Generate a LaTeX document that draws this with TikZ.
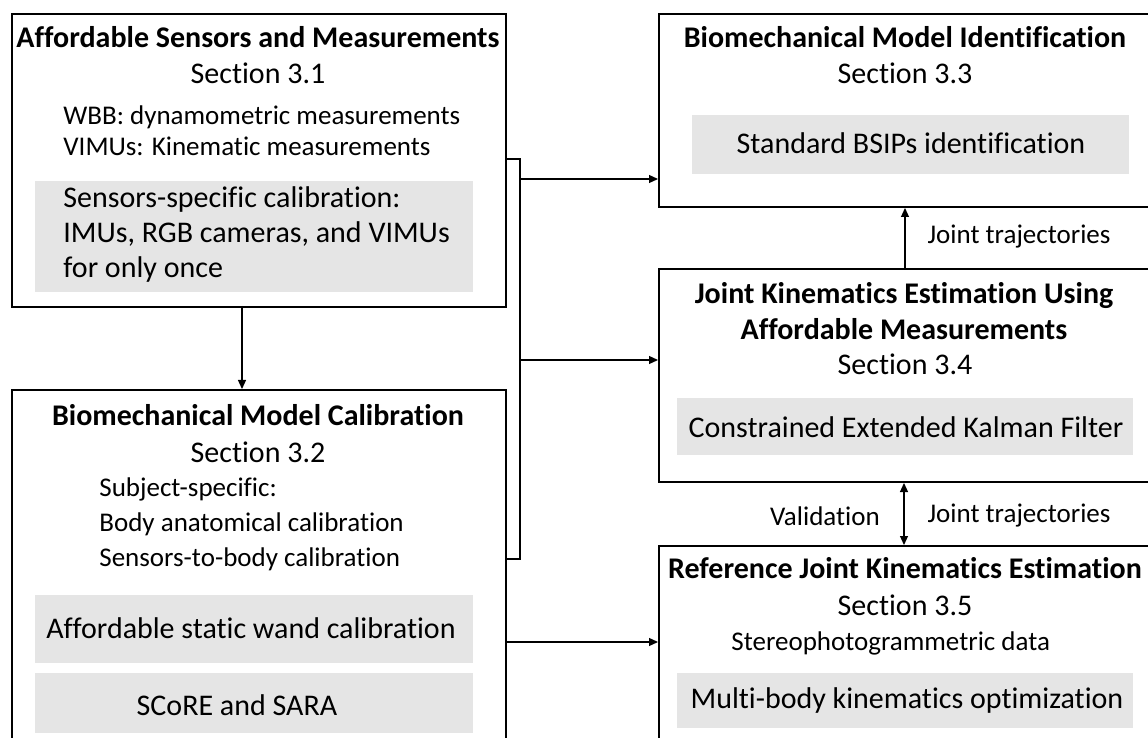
\documentclass[tikz,border=0pt]{standalone}
\usepackage{fontspec}
\setmainfont{Carlito}[Ligatures=NoCommon]
\usetikzlibrary{arrows.meta}

\begin{document}
\begin{tikzpicture}[x=0.5pt,y=-0.5pt,
  box/.style={draw,line width=1pt,anchor=north west,minimum width=247pt,inner sep=0pt},
  shade/.style={fill=gray!20,anchor=north west,inner sep=0pt},
  head/.style={font=\fontsize{15}{18}\selectfont\bfseries,inner sep=0pt},
  sec/.style={font=\fontsize{15}{18}\selectfont,inner sep=0pt},
  note/.style={font=\fontsize{13.5}{15.5}\selectfont,align=left,anchor=west,inner sep=0pt},
  big/.style={font=\fontsize{15}{17.5}\selectfont,align=left,inner sep=0pt},
  arr/.style={-{Triangle[length=4.5pt,width=4pt]},line width=0.6pt}]

\clip (0,0) rectangle (1148,738);

% the five blocks
\node [box,minimum height=146.5pt] (sens) at (11,13) {};
\node [box,minimum height=185pt] (calib) at (11,389) {};
\node [box,minimum height=96.5pt] (ident) at (658,13) {};
\node [box,minimum height=106.5pt] (kin) at (658,268) {};
\node [box,minimum height=110pt] (ref) at (658,545) {};

% grey fields
\node [shade,minimum width=219pt,minimum height=55.5pt] (gsens) at (35,181) {};
\node [shade,minimum width=219pt,minimum height=34pt] (gwand) at (35,595) {};
\node [shade,minimum width=219pt,minimum height=30pt] (gscore) at (35,673) {};
\node [shade,minimum width=218.5pt,minimum height=29.5pt] (gbsip) at (692,115) {};
\node [shade,minimum width=228pt,minimum height=28.5pt] (gekf) at (677,398) {};
\node [shade,minimum width=228pt,minimum height=27.5pt] (gmbo) at (677,673) {};

% Section 3.1
\node [head] (tsens) at (258,37) {Affordable Sensors and Measurements};
\node [sec] (ssens) at (258,73) {Section 3.1};
\node [note] (nsens) at (63,130.5) {WBB: dynamometric measurements\\VIMUs: Kinematic measurements};
\node [big,anchor=west] (xsens) at (63,235) {Sensors-specific calibration:\\IMUs, RGB cameras, and VIMUs\\for only once};

% Section 3.2
\node [head] (tcalib) at (258,415) {Biomechanical Model Calibration};
\node [sec] (scalib) at (258,452) {Section 3.2};
\node [note,font=\fontsize{13.5}{17.5}\selectfont] (ncalib) at (99,524) {Subject-specific:\\Body anatomical calibration\\Sensors-to-body calibration};
\node [big] (xwand) at (251,628) {Affordable static wand calibration};
\node [big] (xscore) at (237,705) {SCoRE and SARA};

% Section 3.3
\node [head] (tident) at (905,37) {Biomechanical Model Identification};
\node [sec] (sident) at (905,73) {Section 3.3};
\node [big] (xbsip) at (911,143) {Standard BSIPs identification};

% Section 3.4
\node [head,align=center] (tkin) at (904,311) {Joint Kinematics Estimation Using\\Affordable Measurements};
\node [sec] (skin) at (905,364) {Section 3.4};
\node [big] (xekf) at (906,427) {Constrained Extended Kalman Filter};

% Section 3.5
\node [head] (tref) at (905,568) {Reference Joint Kinematics Estimation};
\node [sec] (sref) at (905,605) {Section 3.5};
\node [note] (nref) at (731,643) {Stereophotogrammetric data};
\node [big] (xmbo) at (907,701) {Multi-body kinematics optimization};

% connectors
\coordinate (down) at (242,306);
\coordinate (bt) at (520,159);
\coordinate (bb) at (520,559);
\coordinate (j1) at (520,179);
\coordinate (j2) at (520,360);
\coordinate (w) at (507,642);
\coordinate (up) at (905,268);
\coordinate (vv) at (904,483);

\draw [arr] (down) -- (down |- calib.north);
\draw [line width=0.6pt] (bt -| sens.east) -- (bt) -- (bb) -- (bb -| calib.east);
\draw [arr] (j1) -- (j1 -| ident.west);
\draw [arr] (j2) -- (j2 -| kin.west);
\draw [arr] (w) -- (w -| ref.west);
\draw [arr] (up) -- (up |- ident.south);
\draw [arr,{Triangle[length=4.5pt,width=4pt]}-{Triangle[length=4.5pt,width=4pt]}] (vv |- kin.south) -- (vv |- ref.north);

\node [note,anchor=center] (ltraj1) at (1019,237) {Joint trajectories};
\node [note,anchor=center] (lval) at (825,516) {Validation};
\node [note,anchor=center] (ltraj2) at (1019,516) {Joint trajectories};
\end{tikzpicture}
\end{document}
